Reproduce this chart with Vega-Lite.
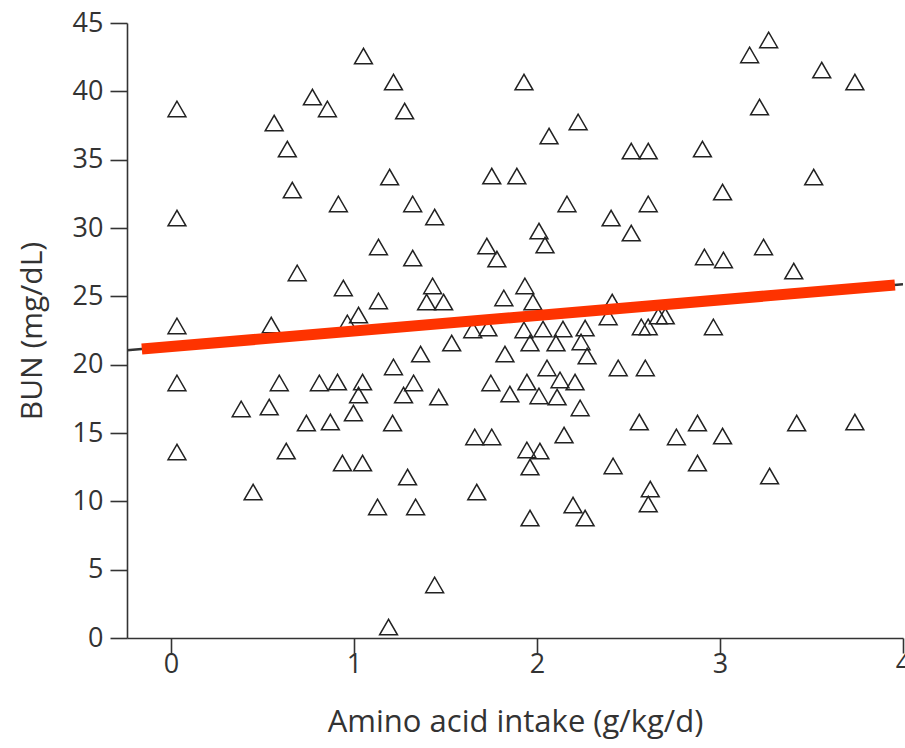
{
  "$schema": "https://vega.github.io/schema/vega-lite/v6.json",
  "autosize": "none",
  "padding": {"left": 127, "top": 23, "right": 2, "bottom": 110},
  "width": 776,
  "height": 615,
  "background": "white",
  "config": {
    "view": {"stroke": null},
    "axis": {
      "domainColor": "#333333",
      "domainWidth": 1.6,
      "tickColor": "#333333",
      "tickWidth": 1.6,
      "labelColor": "#333333",
      "labelFont": "Open Sans",
      "labelFontSize": 27,
      "titleFont": "Open Sans",
      "titleColor": "#333333",
      "titleFontWeight": "normal",
      "grid": false
    }
  },
  "datasets": {
    "points": [
      {"x": 1.052, "y": 42.58}, {"x": 1.216, "y": 40.68}, {"x": 0.773, "y": 39.58}, {"x": 0.855, "y": 38.71},
      {"x": 1.277, "y": 38.56}, {"x": 0.033, "y": 38.71}, {"x": 0.564, "y": 37.68}, {"x": 0.636, "y": 35.78},
      {"x": 1.195, "y": 33.73}, {"x": 0.663, "y": 32.78}, {"x": 0.915, "y": 31.76}, {"x": 1.321, "y": 31.76},
      {"x": 0.033, "y": 30.73}, {"x": 1.134, "y": 28.61}, {"x": 1.321, "y": 27.80}, {"x": 0.690, "y": 26.71},
      {"x": 0.942, "y": 25.61}, {"x": 1.134, "y": 24.66}, {"x": 1.025, "y": 23.63}, {"x": 0.964, "y": 23.05},
      {"x": 0.033, "y": 22.83}, {"x": 0.548, "y": 22.90}, {"x": 3.266, "y": 43.76}, {"x": 3.162, "y": 42.66},
      {"x": 3.556, "y": 41.56}, {"x": 3.737, "y": 40.68}, {"x": 3.216, "y": 38.85}, {"x": 2.904, "y": 35.78},
      {"x": 3.512, "y": 33.73}, {"x": 3.014, "y": 32.63}, {"x": 3.238, "y": 28.61}, {"x": 2.915, "y": 27.88},
      {"x": 3.019, "y": 27.66}, {"x": 3.403, "y": 26.85}, {"x": 2.964, "y": 22.76}, {"x": 1.929, "y": 40.68},
      {"x": 2.225, "y": 37.76}, {"x": 2.066, "y": 36.73}, {"x": 2.515, "y": 35.63}, {"x": 2.608, "y": 35.63},
      {"x": 1.753, "y": 33.80}, {"x": 1.890, "y": 33.80}, {"x": 1.441, "y": 30.80}, {"x": 2.164, "y": 31.76},
      {"x": 2.405, "y": 30.73}, {"x": 2.608, "y": 31.76}, {"x": 2.515, "y": 29.63}, {"x": 2.011, "y": 29.78},
      {"x": 2.044, "y": 28.75}, {"x": 1.726, "y": 28.68}, {"x": 1.781, "y": 27.73}, {"x": 1.430, "y": 25.76},
      {"x": 1.397, "y": 24.58}, {"x": 1.490, "y": 24.58}, {"x": 1.819, "y": 24.88}, {"x": 1.934, "y": 25.76},
      {"x": 1.978, "y": 24.58}, {"x": 2.411, "y": 24.58}, {"x": 2.389, "y": 23.49}, {"x": 2.570, "y": 22.76},
      {"x": 2.608, "y": 22.76}, {"x": 2.663, "y": 23.56}, {"x": 2.701, "y": 23.56}, {"x": 0.033, "y": 18.66},
      {"x": 0.592, "y": 18.66}, {"x": 0.811, "y": 18.66}, {"x": 0.910, "y": 18.73}, {"x": 1.047, "y": 18.73},
      {"x": 1.025, "y": 17.78}, {"x": 0.997, "y": 16.46}, {"x": 1.216, "y": 19.83}, {"x": 1.326, "y": 18.66},
      {"x": 1.271, "y": 17.78}, {"x": 0.384, "y": 16.76}, {"x": 0.537, "y": 16.90}, {"x": 0.740, "y": 15.73},
      {"x": 0.871, "y": 15.80}, {"x": 1.211, "y": 15.73}, {"x": 0.033, "y": 13.61}, {"x": 0.630, "y": 13.68},
      {"x": 0.937, "y": 12.80}, {"x": 1.047, "y": 12.80}, {"x": 1.293, "y": 11.78}, {"x": 0.449, "y": 10.68},
      {"x": 1.129, "y": 9.59}, {"x": 1.337, "y": 9.59}, {"x": 1.189, "y": 0.80}, {"x": 1.364, "y": 20.78},
      {"x": 1.534, "y": 21.58}, {"x": 1.825, "y": 20.78}, {"x": 1.649, "y": 22.54}, {"x": 1.732, "y": 22.68},
      {"x": 1.929, "y": 22.54}, {"x": 2.033, "y": 22.61}, {"x": 2.142, "y": 22.61}, {"x": 2.263, "y": 22.68},
      {"x": 1.962, "y": 21.58}, {"x": 2.104, "y": 21.58}, {"x": 2.241, "y": 21.66}, {"x": 2.274, "y": 20.63},
      {"x": 2.055, "y": 19.76}, {"x": 2.444, "y": 19.76}, {"x": 2.592, "y": 19.76}, {"x": 1.463, "y": 17.63},
      {"x": 1.748, "y": 18.66}, {"x": 1.852, "y": 17.85}, {"x": 1.945, "y": 18.73}, {"x": 2.011, "y": 17.71},
      {"x": 2.126, "y": 18.88}, {"x": 2.110, "y": 17.63}, {"x": 2.208, "y": 18.73}, {"x": 2.236, "y": 16.83},
      {"x": 2.559, "y": 15.80}, {"x": 2.762, "y": 14.71}, {"x": 2.877, "y": 15.73}, {"x": 1.660, "y": 14.71},
      {"x": 1.753, "y": 14.71}, {"x": 2.148, "y": 14.85}, {"x": 1.945, "y": 13.76}, {"x": 2.016, "y": 13.68},
      {"x": 1.962, "y": 12.51}, {"x": 2.416, "y": 12.59}, {"x": 2.877, "y": 12.80}, {"x": 1.671, "y": 10.68},
      {"x": 2.619, "y": 10.90}, {"x": 2.608, "y": 9.80}, {"x": 1.962, "y": 8.78}, {"x": 2.197, "y": 9.73},
      {"x": 2.263, "y": 8.78}, {"x": 1.441, "y": 3.88}, {"x": 3.014, "y": 14.78}, {"x": 3.419, "y": 15.73},
      {"x": 3.737, "y": 15.80}, {"x": 3.271, "y": 11.85}
    ],
    "fit": [
      {"x": -0.24, "y": 21.05, "line": "black"},
      {"x": 4.0, "y": 25.88, "line": "black"},
      {"x": -0.159, "y": 21.14, "line": "red"},
      {"x": 3.956, "y": 25.83, "line": "red"}
    ]
  },
  "layer": [
    {
      "data": {"name": "points"},
      "mark": {"type": "point", "shape": "triangle-up", "size": 320, "filled": false, "stroke": "#222222", "strokeWidth": 1.5, "opacity": 1},
      "encoding": {
        "x": {
          "field": "x", "type": "quantitative",
          "scale": {"domain": [-0.24, 4], "nice": false, "zero": false},
          "axis": {"values": [0, 1, 2, 3, 4], "format": "d", "title": "Amino acid intake (g/kg/d)", "titleFontSize": 31, "titlePadding": 30, "labelPadding": -2, "tickSize": 15, "labelFlush": false}
        },
        "y": {
          "field": "y", "type": "quantitative",
          "scale": {"domain": [0, 45], "nice": false},
          "axis": {"values": [0, 5, 10, 15, 20, 25, 30, 35, 40, 45], "title": "BUN (mg/dL)", "titleFontSize": 30, "titlePadding": 25, "labelPadding": 7, "tickSize": 17}
        }
      }
    },
    {
      "data": {"name": "fit"},
      "transform": [{"filter": "datum.line === 'black'"}],
      "mark": {"type": "line", "color": "#333333", "strokeWidth": 2.5, "clip": true},
      "encoding": {
        "x": {"field": "x", "type": "quantitative"},
        "y": {"field": "y", "type": "quantitative"}
      }
    },
    {
      "data": {"name": "fit"},
      "transform": [{"filter": "datum.line === 'red'"}],
      "mark": {"type": "line", "color": "#fe3300", "strokeWidth": 11, "strokeCap": "butt"},
      "encoding": {
        "x": {"field": "x", "type": "quantitative"},
        "y": {"field": "y", "type": "quantitative"}
      }
    }
  ]
}
